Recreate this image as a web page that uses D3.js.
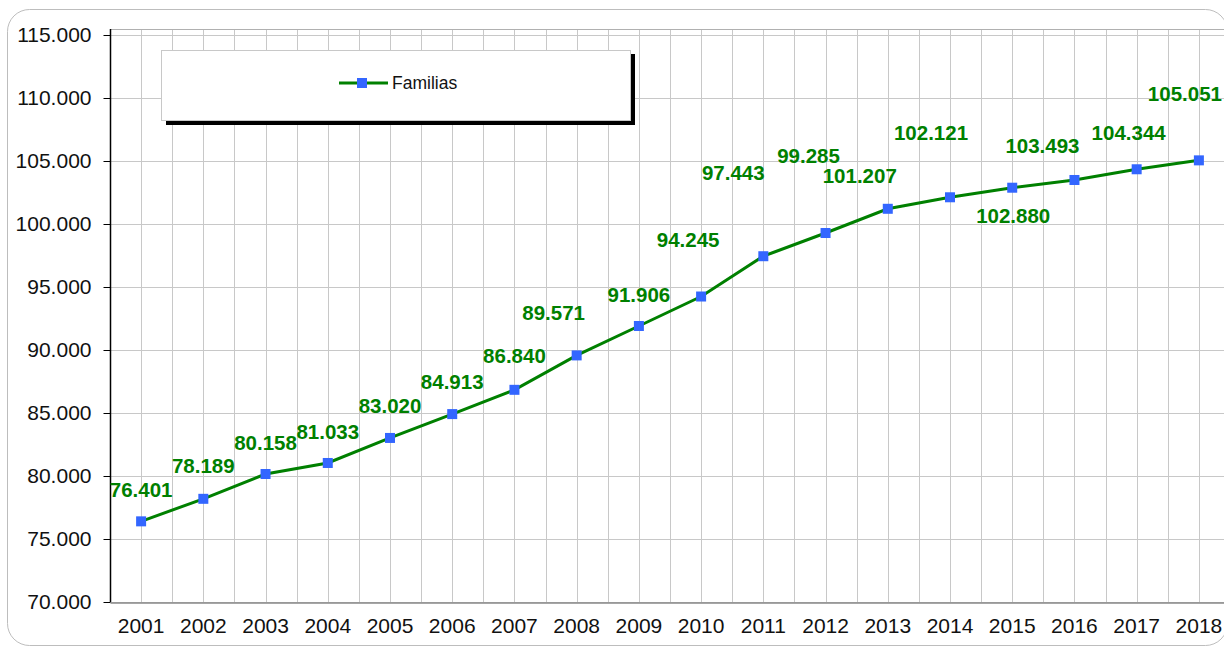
<!DOCTYPE html>
<html>
<head>
<meta charset="utf-8">
<script src="https://cdn.jsdelivr.net/npm/d3@7"></script>
<style>
  body { margin: 0; background: #fff; }
  svg { display: block; font-family: Arial, "Liberation Sans", sans-serif; }
</style>
</head>
<body>
<div id="chart"></div>
<script>
// data
const years = ["2001","2002","2003","2004","2005","2006","2007","2008","2009",
               "2010","2011","2012","2013","2014","2015","2016","2017","2018"];
const familias = [76401, 78189, 80158, 81033, 83020, 84913, 86840, 89571, 91906,
                  94245, 97443, 99285, 101207, 102121, 102880, 103493, 104344, 105051];
const yTicks = [70000, 75000, 80000, 85000, 90000, 95000, 100000, 105000, 110000, 115000];
const seriesName = "Familias";

// where each value label sits relative to its point (like the excel original)
const labelShift = [[0,-32],[0,-33],[0,-32],[0,-31],[0,-32],[0,-33],[0,-34],[-23,-43],[0,-31],
                    [-13,-57],[-30,-84],[-17,-78],[-28,-33],[-19,-65],[1,28],[-32,-34],[-8,-37],[-14,-67]];

const width = 1224, height = 646;
const green = "#008000", blue = "#3366ff", grid = "#c8c8c8";

const svg = d3.select("#chart").append("svg")
  .attr("width", width)
  .attr("height", height);

// outer rounded frame
svg.append("rect")
  .attr("x", 7.5).attr("y", 9.5)
  .attr("width", 1220).attr("height", 636)
  .attr("rx", 22)
  .attr("fill", "#fff")
  .attr("stroke", "#bdbdbd");

const plot = { left: 110, right: 1230, top: 29, bottom: 602 };

const x = d3.scaleBand()
  .domain(years)
  .range([plot.left, plot.right]);

const y = d3.scaleLinear()
  .domain([70000, 115000])
  .range([plot.bottom, 35]);

const cx = (d) => x(d) + x.bandwidth() / 2;

// vertical grid: category centres and band edges
const vLines = [];
years.forEach((yr) => { vLines.push(x(yr)); vLines.push(cx(yr)); });
vLines.push(plot.right);

svg.append("g")
  .selectAll("line")
  .data(vLines)
  .join("line")
  .attr("x1", (d) => Math.round(d) + 0.5)
  .attr("x2", (d) => Math.round(d) + 0.5)
  .attr("y1", plot.top)
  .attr("y2", plot.bottom)
  .attr("stroke", grid);

// horizontal grid
svg.append("g")
  .selectAll("line")
  .data(yTicks)
  .join("line")
  .attr("x1", plot.left)
  .attr("x2", plot.right)
  .attr("y1", (d) => Math.round(y(d)) + 0.5)
  .attr("y2", (d) => Math.round(y(d)) + 0.5)
  .attr("stroke", grid);

// top border of plot
svg.append("line")
  .attr("x1", plot.left).attr("x2", plot.right)
  .attr("y1", plot.top + 0.5).attr("y2", plot.top + 0.5)
  .attr("stroke", "#b0b0b0");

// y axis
const yAxis = svg.append("g")
  .attr("transform", `translate(${plot.left + 0.5},0)`)
  .call(d3.axisLeft(y)
    .tickValues(yTicks)
    .tickSize(7)
    .tickPadding(12)
    .tickFormat((d) => d3.format(".3f")(d / 1000)));
yAxis.select(".domain").attr("d", `M-0,${plot.top}V${plot.bottom}`).attr("stroke", "#000").attr("stroke-width", 1.5);
yAxis.selectAll(".tick line").attr("stroke", "#000");
yAxis.selectAll("text")
  .attr("font-size", 21)
  .attr("fill", "#111")
  .attr("font-family", "Arial, 'Liberation Sans', sans-serif");

// x axis
const xAxis = svg.append("g")
  .attr("transform", `translate(0,${plot.bottom + 0.5})`)
  .call(d3.axisBottom(x).tickSize(0).tickPadding(16));
xAxis.select(".domain").attr("stroke", "#888").attr("stroke-width", 1.5);
xAxis.selectAll("text")
  .attr("font-size", 21)
  .attr("fill", "#111")
  .attr("font-family", "Arial, 'Liberation Sans', sans-serif");

// line
const line = d3.line()
  .x((d, i) => cx(years[i]))
  .y((d) => y(d));

svg.append("path")
  .datum(familias)
  .attr("d", line)
  .attr("fill", "none")
  .attr("stroke", green)
  .attr("stroke-width", 3);

// markers
svg.append("g")
  .selectAll("rect")
  .data(familias)
  .join("rect")
  .attr("x", (d, i) => cx(years[i]) - 5)
  .attr("y", (d) => y(d) - 5)
  .attr("width", 10)
  .attr("height", 10)
  .attr("fill", blue);

// value labels
svg.append("g")
  .selectAll("text")
  .data(familias)
  .join("text")
  .attr("x", (d, i) => cx(years[i]) + labelShift[i][0])
  .attr("y", (d, i) => y(d) + labelShift[i][1])
  .attr("text-anchor", "middle")
  .attr("dominant-baseline", "central")
  .attr("font-size", 20.5)
  .attr("font-weight", "bold")
  .attr("fill", green)
  .text((d) => d3.format(".3f")(d / 1000));

// legend
const legend = svg.append("g");
legend.append("rect")
  .attr("x", 166).attr("y", 54)
  .attr("width", 469).attr("height", 71)
  .attr("fill", "#000");
legend.append("rect")
  .attr("x", 161.5).attr("y", 50.5)
  .attr("width", 469).attr("height", 70)
  .attr("fill", "#fff")
  .attr("stroke", "#c8c8c8");
legend.append("line")
  .attr("x1", 339).attr("x2", 388)
  .attr("y1", 83).attr("y2", 83)
  .attr("stroke", green)
  .attr("stroke-width", 3);
legend.append("rect")
  .attr("x", 357).attr("y", 78)
  .attr("width", 10).attr("height", 10)
  .attr("fill", blue);
legend.append("text")
  .attr("x", 392).attr("y", 83)
  .attr("dominant-baseline", "central")
  .attr("font-size", 17.5)
  .attr("fill", "#111")
  .text(seriesName);
</script>
</body>
</html>
